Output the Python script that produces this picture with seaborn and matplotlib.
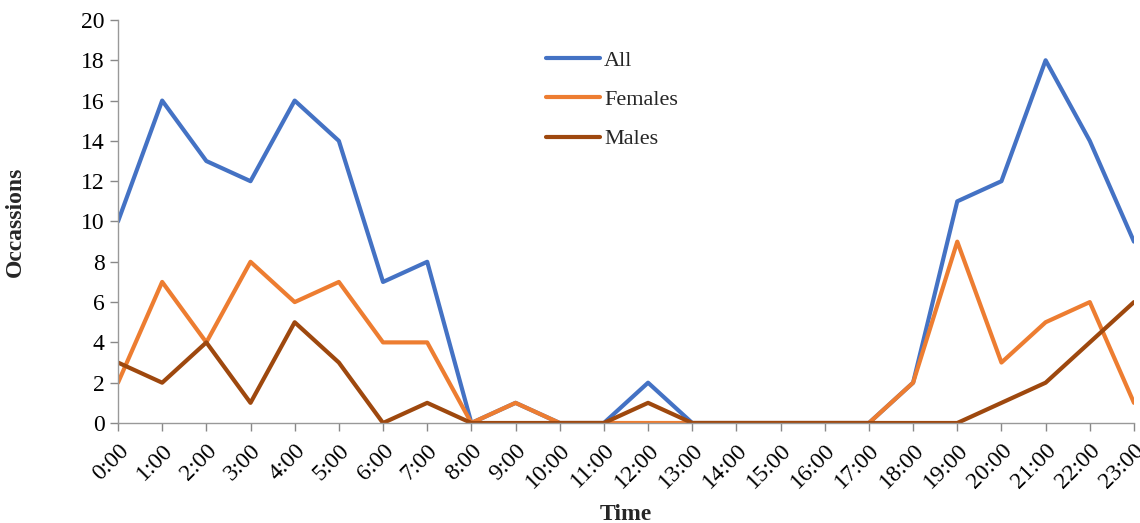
import matplotlib
matplotlib.use("Agg")
import matplotlib.pyplot as plt
import seaborn as sns
import pandas as pd

times = [f"{h}:00" for h in range(24)]
all_vals = [10, 16, 13, 12, 16, 14, 7, 8, 0, 1, 0, 0, 2, 0, 0, 0, 0, 0, 2, 11, 12, 18, 14, 9]
female_vals = [2, 7, 4, 8, 6, 7, 4, 4, 0, 1, 0, 0, 0, 0, 0, 0, 0, 0, 2, 9, 3, 5, 6, 1]
male_vals = [3, 2, 4, 1, 5, 3, 0, 1, 0, 0, 0, 0, 1, 0, 0, 0, 0, 0, 0, 0, 1, 2, 4, 6]
series_names = ["All", "Females", "Males"]
colors = ["#4472C4", "#ED7D31", "#9E480E"]

rows = []
for name, vals in zip(series_names, [all_vals, female_vals, male_vals]):
    for i, v in enumerate(vals):
        rows.append({"idx": i, "Occassions": v, "series": name})
df = pd.DataFrame(rows)

sns.set_style("white")
plt.rcParams['font.family'] = ['Liberation Serif', 'DejaVu Serif']

fig = plt.figure(figsize=(11.4, 5.23), dpi=100)
ax = fig.add_axes([0.1035, 0.1912, 0.8912, 0.7706])
sns.lineplot(data=df, x="idx", y="Occassions", hue="series", hue_order=series_names,
             palette=colors, linewidth=3.0, ax=ax, sort=False)

ax.set_xlim(0, 23)
ax.set_ylim(0, 20)
ax.set_yticks(range(0, 21, 2))
ax.set_xticks(range(24))
ax.set_xticklabels(times, rotation=45, ha="right", rotation_mode="anchor")
ax.tick_params(axis="both", labelsize=17, colors="#888888", labelcolor="black",
               direction="out", length=6, width=1, bottom=True, left=True)
ax.tick_params(axis="x", pad=6)
for s in ["top", "right"]:
    ax.spines[s].set_visible(False)
for s in ["left", "bottom"]:
    ax.spines[s].set_color("#999999")
    ax.spines[s].set_linewidth(1)

ax.set_xlabel("Time", fontsize=17, fontweight="bold", labelpad=8)
ax.set_ylabel("Occassions", fontsize=17, fontweight="bold", labelpad=40)

leg = ax.legend(loc="upper left", bbox_to_anchor=(0.402, 0.975), frameon=False,
                fontsize=16, handlelength=2.4, handletextpad=0.2, labelspacing=0.85)
for line in leg.get_lines():
    line.set_linewidth(3)

fig.savefig("out.png", dpi=100)
